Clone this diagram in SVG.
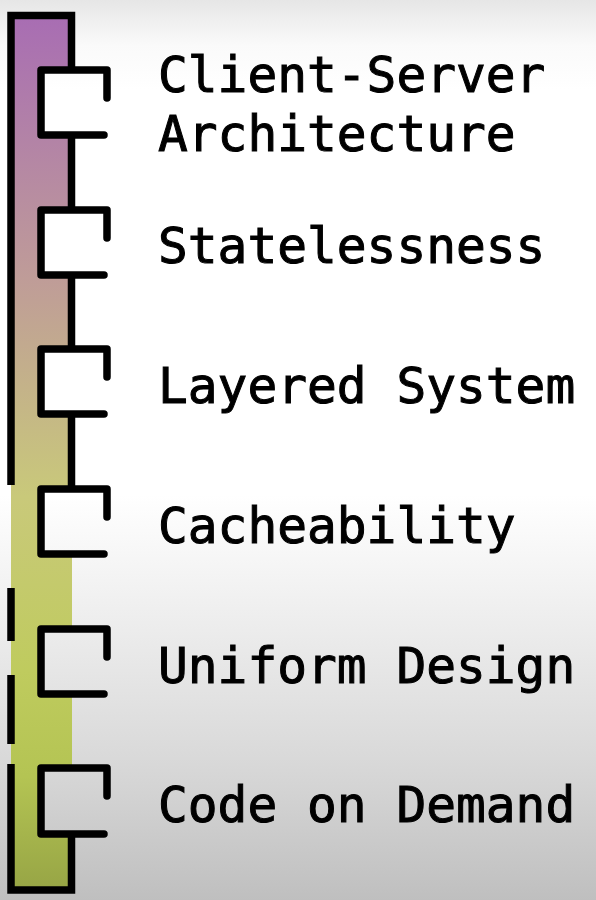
<svg xmlns="http://www.w3.org/2000/svg" width="596" height="900" viewBox="0 0 596 900">
  <defs>
    <linearGradient id="bg" gradientUnits="userSpaceOnUse" x1="0" y1="0" x2="0" y2="900">
      <stop offset="0" stop-color="#e6e6e6"/>
      <stop offset="0.05" stop-color="#fafafa"/>
      <stop offset="0.1" stop-color="#ffffff"/>
      <stop offset="0.55" stop-color="#ffffff"/>
      <stop offset="0.7" stop-color="#ececec"/>
      <stop offset="0.85" stop-color="#d8d8d8"/>
      <stop offset="1" stop-color="#bfbfbf"/>
    </linearGradient>
    <linearGradient id="barfill" gradientUnits="userSpaceOnUse" x1="0" y1="16" x2="0" y2="890">
      <stop offset="0" stop-color="#a86db3"/>
      <stop offset="0.3" stop-color="#bf9c98"/>
      <stop offset="0.55" stop-color="#c9c97a"/>
      <stop offset="0.75" stop-color="#bfcb5e"/>
      <stop offset="0.87" stop-color="#b4c453"/>
      <stop offset="1" stop-color="#97a545"/>
    </linearGradient>
  </defs>
  <style>
    .edge { fill: none; stroke: #000; stroke-width: 7.5; }
    .box { fill: url(#bg); stroke: none; }
    .bracket { fill: none; stroke: #000; stroke-width: 7.5; stroke-linecap: round; stroke-linejoin: round; }
    .label { font-family: "DejaVu Sans Mono", "Liberation Mono", monospace; font-size: 49.5px; fill: #000; stroke: #000; stroke-width: 1; }
  </style>
  <rect x="0" y="0" width="596" height="900" fill="url(#bg)"/>
  <g id="connectors">
    <rect x="11" y="15.5" width="61" height="874.5" fill="url(#barfill)"/>
    <path class="edge" d="M11 485 V15.5 H71.5 V489"/>
    <path class="edge" d="M11 588 V641 M11 675 V744"/>
    <path class="edge" d="M11 764 V890 H71.5 V834"/>
  </g>
  <g id="node-client-server">
    <rect class="box" x="41" y="70" width="66" height="65"/>
    <path class="bracket" d="M107 98 V70 H41 V135 H104"/>
    <text class="label" x="158" y="92">Client-Server</text>
    <text class="label" x="158" y="151">Architecture</text>
  </g>
  <g id="node-statelessness">
    <rect class="box" x="41" y="210" width="66" height="65"/>
    <path class="bracket" d="M107 238 V210 H41 V275 H104"/>
    <text class="label" x="158" y="263">Statelessness</text>
  </g>
  <g id="node-layered-system">
    <rect class="box" x="41" y="349" width="66" height="65"/>
    <path class="bracket" d="M107 377 V349 H41 V414 H104"/>
    <text class="label" x="158" y="403">Layered System</text>
  </g>
  <g id="node-cacheability">
    <rect class="box" x="41" y="489" width="66" height="65"/>
    <path class="bracket" d="M107 517 V489 H41 V554 H104"/>
    <text class="label" x="158" y="543">Cacheability</text>
  </g>
  <g id="node-uniform-design">
    <rect class="box" x="41" y="629" width="66" height="65"/>
    <path class="bracket" d="M107 657 V629 H41 V694 H104"/>
    <text class="label" x="158" y="683">Uniform Design</text>
  </g>
  <g id="node-code-on-demand">
    <rect class="box" x="41" y="768" width="66" height="66"/>
    <path class="bracket" d="M107 796 V768 H41 V834 H104"/>
    <text class="label" x="158" y="822">Code on Demand</text>
  </g>
</svg>
